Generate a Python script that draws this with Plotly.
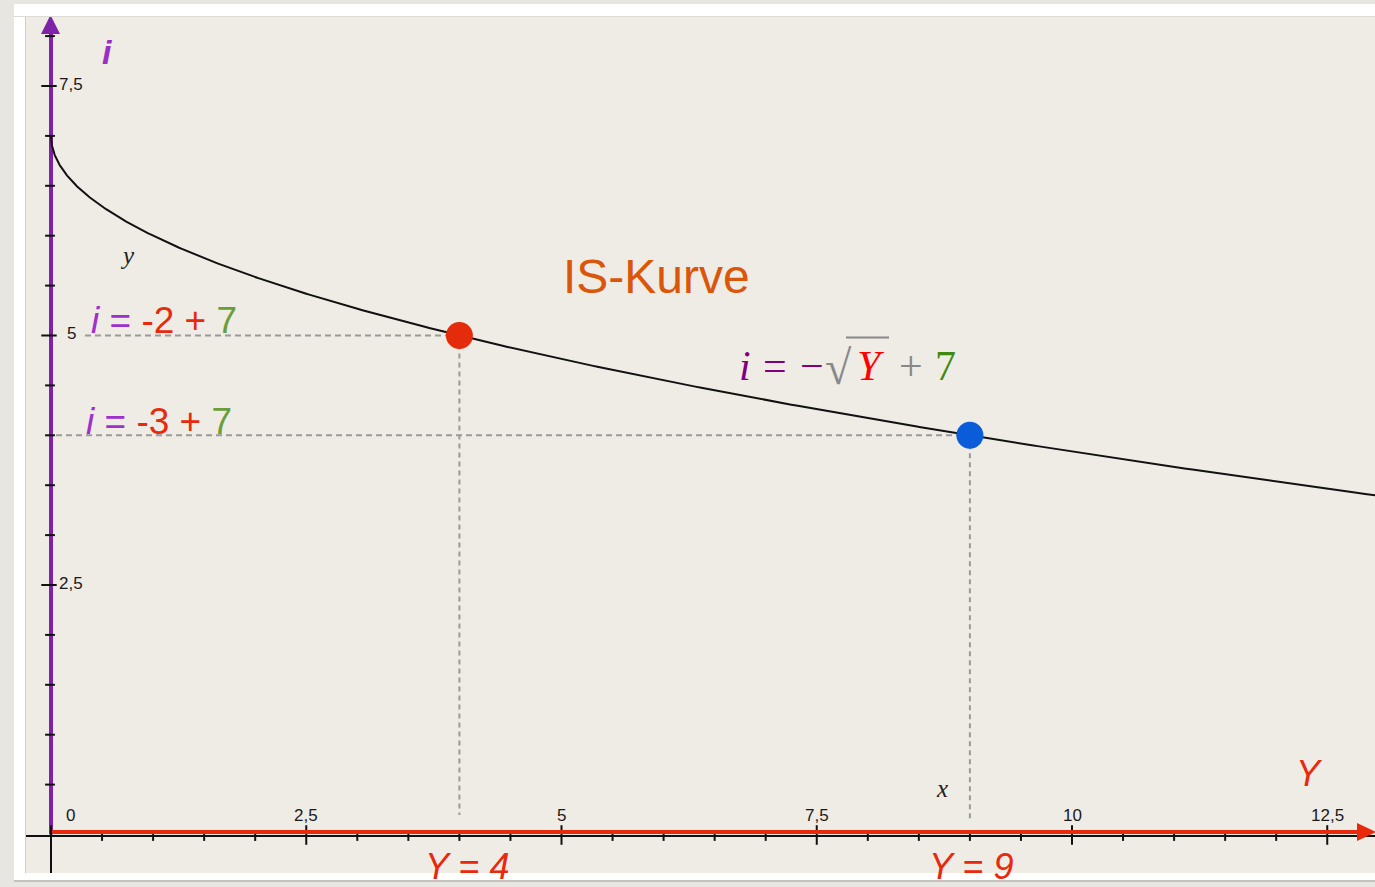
import numpy as np
import plotly.graph_objects as go

# ---------------- data ----------------
intercept = 7
curve_Y = (np.linspace(0, 1, 400) ** 2) * 13.0
curve_i = intercept - np.sqrt(curve_Y)

point_Y = [4, 9]
point_i = [5, 4]
point_colors = ["#E42B0B", "#0B5CD9"]
point_labels = ["Y = 4", "Y = 9"]

x_major = [0, 2.5, 5, 7.5, 10, 12.5]
x_major_labels = ["0", "2,5", "5", "7,5", "10", "12,5"]
x_minor = [0.5, 1, 1.5, 2, 3, 3.5, 4, 4.5, 5.5, 6, 6.5, 7, 8, 8.5, 9, 9.5,
           10.5, 11, 11.5, 12]
y_major = [2.5, 5, 7.5]
y_major_labels = ["2,5", "5", "7,5"]
y_minor = [0.5, 1, 1.5, 2, 3, 3.5, 4, 4.5, 5.5, 6, 6.5, 7, 8]

# ---------------- geometry helpers (pixel -> data) ----------------
W, H = 1375, 887
ML, MR, MT, MB = 26, 0, 17, 14
XPX0, XPU = 51.0, 102.1
YPX0, YPU = 834.5, 99.8


def dx(px):
    return (px - XPX0) / XPU


def dy(py):
    return (YPX0 - py) / YPU


def paper_x(px):
    return (px - ML) / (W - ML - MR)


def paper_y(py):
    return (H - MB - py) / (H - MT - MB)


PURPLE_AXIS = "#7F22A8"
RED_AXIS = "#E8290B"
SANS = "Liberation Sans, Arial, sans-serif"
SERIF = "Liberation Serif, Times New Roman, serif"

fig = go.Figure()

# purple i-axis
fig.add_trace(go.Scatter(x=[0, 0], y=[0, dy(33)], mode="lines",
                         line=dict(color=PURPLE_AXIS, width=4), hoverinfo="skip"))

# dashed guide lines
for Yv, iv, startpx in zip(point_Y, point_i, [85, 56]):
    fig.add_trace(go.Scatter(x=[dx(startpx), Yv], y=[iv, iv], mode="lines",
                             line=dict(color="#9A9A9A", width=2, dash="6px,4px"),
                             hoverinfo="skip"))
for Yv, iv, endpy in zip(point_Y, point_i, [815, 822]):
    fig.add_trace(go.Scatter(x=[Yv, Yv], y=[iv, dy(endpy)], mode="lines",
                             line=dict(color="#9A9A9A", width=2, dash="5px,4px"),
                             hoverinfo="skip"))

# ticks
fig.add_trace(go.Scatter(x=x_minor, y=[dy(836)] * len(x_minor), mode="markers",
                         marker=dict(symbol="line-ns", size=7,
                                     line=dict(color="#111111", width=2)),
                         hoverinfo="skip"))
fig.add_trace(go.Scatter(x=x_major, y=[dy(835)] * len(x_major), mode="markers",
                         marker=dict(symbol="line-ns", size=14,
                                     line=dict(color="#111111", width=2)),
                         hoverinfo="skip"))
fig.add_trace(go.Scatter(x=[dx(50)] * len(y_minor), y=y_minor, mode="markers",
                         marker=dict(symbol="line-ew", size=7,
                                     line=dict(color="#111111", width=2)),
                         hoverinfo="skip"))
fig.add_trace(go.Scatter(x=[dx(49)] * len(y_major), y=y_major, mode="markers",
                         marker=dict(symbol="line-ew", size=11,
                                     line=dict(color="#111111", width=2)),
                         hoverinfo="skip"))

# red Y-axis
fig.add_trace(go.Scatter(x=[dx(52), dx(1358)], y=[dy(832)] * 2, mode="lines",
                         line=dict(color=RED_AXIS, width=4), hoverinfo="skip"))

# IS curve
fig.add_trace(go.Scatter(x=curve_Y, y=curve_i, mode="lines",
                         line=dict(color="#111111", width=2), hoverinfo="skip"))

# points
fig.add_trace(go.Scatter(x=point_Y, y=point_i, mode="markers",
                         marker=dict(color=point_colors, size=27, line=dict(width=0)),
                         hoverinfo="skip"))

shapes = [
    # black axes
    dict(type="line", xref="x", yref="y", x0=dx(26), x1=dx(1375), y0=dy(836), y1=dy(836),
         line=dict(color="#111111", width=2), layer="below"),
    dict(type="line", xref="x", yref="y", x0=dx(51), x1=dx(51), y0=dy(873), y1=dy(40),
         line=dict(color="#111111", width=2), layer="below"),
    # arrowheads
    dict(type="path", xref="x", yref="y",
         path=f"M {dx(1357)},{dy(823)} L {dx(1376)},{dy(832)} L {dx(1357)},{dy(841)} Z",
         fillcolor=RED_AXIS, line=dict(width=0)),
    dict(type="path", xref="x", yref="y",
         path=f"M {dx(41)},{dy(34)} L {dx(50.5)},{dy(15)} L {dx(60)},{dy(34)} Z",
         fillcolor=PURPLE_AXIS, line=dict(width=0)),
    # sqrt vinculum
    dict(type="line", xref="x", yref="y", x0=dx(846), x1=dx(889), y0=dy(337.5), y1=dy(337.5),
         line=dict(color="#888888", width=2)),
    # frame (white border around the plot)
    dict(type="rect", xref="paper", yref="paper", x0=paper_x(14), x1=paper_x(26),
         y0=paper_y(880), y1=paper_y(4), fillcolor="white", line=dict(width=0), layer="below"),
    dict(type="rect", xref="paper", yref="paper", x0=paper_x(14), x1=paper_x(1376),
         y0=paper_y(17), y1=paper_y(4), fillcolor="white", line=dict(width=0), layer="below"),
    dict(type="rect", xref="paper", yref="paper", x0=paper_x(14), x1=paper_x(1376),
         y0=paper_y(880), y1=paper_y(873), fillcolor="white", line=dict(width=0), layer="below"),
    dict(type="line", xref="paper", yref="paper", x0=paper_x(25.5), x1=paper_x(25.5),
         y0=paper_y(873), y1=paper_y(17), line=dict(color="#CFCDC8", width=1)),
    dict(type="line", xref="paper", yref="paper", x0=paper_x(14), x1=paper_x(1376),
         y0=paper_y(881), y1=paper_y(881), line=dict(color="#C4C2BD", width=2)),
    dict(type="line", xref="paper", yref="paper", x0=paper_x(14), x1=paper_x(1376),
         y0=paper_y(16.5), y1=paper_y(16.5), line=dict(color="#DDDBD6", width=1)),
]

ann = []


def add_text(text, xpx, ypx, size, color="#111111", family=SANS, xanchor="center",
             yanchor="middle"):
    ann.append(dict(text=text, x=dx(xpx), y=dy(ypx), xref="x", yref="y",
                    showarrow=False, xanchor=xanchor, yanchor=yanchor,
                    font=dict(size=size, color=color, family=family)))


# tick labels
for v, lab in zip(x_major, x_major_labels):
    ann.append(dict(text=lab, x=v, y=dy(815), xref="x", yref="y", showarrow=False,
                    xanchor="center", yanchor="middle", xshift=19 if v == 0 else 0,
                    font=dict(size=17, color="#1A1A1A", family=SANS)))
for v, lab in zip(y_major, y_major_labels):
    ann.append(dict(text=lab, x=dx(71), y=v, xref="x", yref="y", showarrow=False,
                    xanchor="center", yanchor="middle", yshift=2,
                    font=dict(size=17, color="#1A1A1A", family=SANS)))

# axis names
add_text("<b><i>i</i></b>", 107, 52, 34, "#9A2EC6")
add_text("<i>Y</i>", 1309, 773, 36, "#E8290B")
add_text("<i>y</i>", 127, 255, 25, "#222222", SERIF)
add_text("<i>x</i>", 942, 788, 25, "#222222", SERIF)

# title
add_text("IS-Kurve", 656, 276, 48, "#DA560B")

# formula i = -sqrt(Y) + 7, set glyph by glyph
FS = 42
fy = 380 - 0.325 * FS
add_text("<i>i</i>", 745, fy, FS, "#800080", SERIF)
add_text("=", 775, fy, FS, "#800080", SERIF)
add_text("\u2212", 812, fy, FS, "#800080", SERIF)
add_text("\u221a", 838, fy + 1, 48, "#888888", SERIF)
add_text("<i>Y</i>", 871, fy, FS, "#FF0000", SERIF)
add_text("+", 911, fy, FS, "#888888", SERIF)
add_text("7", 945, fy, FS, "#3F8A10", SERIF)

# point equations
eq1 = ("<span style='color:#9E30CC'><i>i</i> = </span>"
       "<span style='color:#E62A0C'>-2 + </span>"
       "<span style='color:#6A9E3A'>7</span>")
eq2 = ("<span style='color:#9E30CC'><i>i</i> = </span>"
       "<span style='color:#E62A0C'>-3 + </span>"
       "<span style='color:#6A9E3A'>7</span>")
add_text(eq1, 89, 320, 37, xanchor="left")
add_text(eq2, 84, 421, 37, xanchor="left")

# point Y labels
for Yv, lab, cx in zip(point_Y, point_labels, [467, 971]):
    ann.append(dict(text=f"<i>{lab}</i>", x=Yv, y=dy(866), xref="x", yref="y",
                    showarrow=False, xanchor="center", yanchor="middle",
                    xshift=cx - (XPX0 + Yv * XPU),
                    font=dict(size=36, color="#E8290B", family=SANS)))

fig.update_layout(
    width=W, height=H, autosize=False,
    margin=dict(l=ML, r=MR, t=MT, b=MB, pad=0),
    paper_bgcolor="#E8E6E0", plot_bgcolor="#EFEBE5",
    showlegend=False,
    xaxis=dict(range=[dx(ML), dx(W - MR)], visible=False, fixedrange=True),
    yaxis=dict(range=[dy(H - MB), dy(MT)], visible=False, fixedrange=True),
    shapes=shapes, annotations=ann,
)

fig.write_html(
    "out.html",
    config={"displayModeBar": False},
    post_script="document.body.style.margin='0';document.body.style.overflow='hidden';",
)
